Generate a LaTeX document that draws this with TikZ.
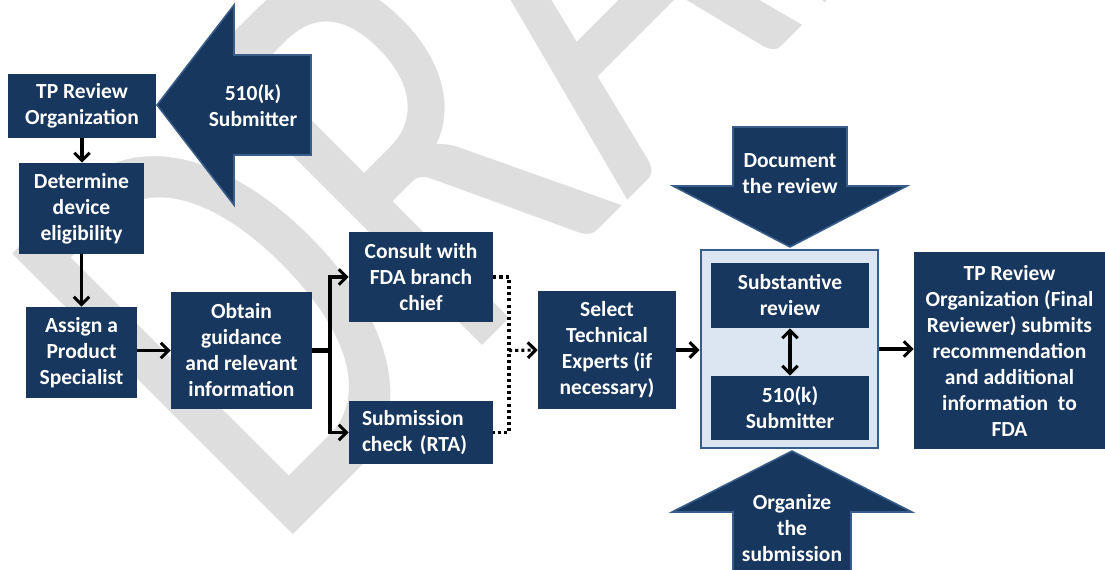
\documentclass[tikz,border=0pt]{standalone}
\usepackage{fontspec}
\setmainfont{Carlito}
\usetikzlibrary{arrows.meta}

\definecolor{navy}{HTML}{17375E}
\definecolor{edgeblue}{HTML}{385D8A}
\definecolor{paleblue}{HTML}{DCE6F2}
\definecolor{wmgray}{HTML}{DEDEDE}

\newcommand{\boxfont}{\fontsize{15.3}{18.5}\selectfont\bfseries}

\tikzset{
  stepbox/.style 2 args={fill=navy, text=white, font=\boxfont, align=center,
    inner sep=0pt, minimum width=#1*0.025cm, minimum height=#2*0.025cm},
  arrowtext/.style={text=white, font=\boxfont, align=center, inner sep=0pt},
  blockarrow/.style={fill=navy, draw=edgeblue, line width=1.1pt, line join=miter},
  flow/.style={line width=2.2pt, ->},
  dotline/.style={line width=2.2pt, dash pattern=on 2.2pt off 2.2pt},
  wmark/.style={text=wmgray, font=\fontsize{440}{440}\selectfont, rotate=45,
    xscale=0.7, anchor=base west, inner sep=0pt},
}

\begin{document}
\begin{tikzpicture}[x=0.025cm, y=-0.025cm, >={Straight Barb[length=5.5pt,width=11pt]}]
      \useasboundingbox (0,0) rectangle (1105,570);
      \clip (0,0) rectangle (1105,570);

      % watermark
      \node[wmark] (draft) at (272,556) {DRAFT};

      % left column
      \node[stepbox={148}{64}] (tpro) at (82,106) {TP Review\\Organization};
      \node[stepbox={125}{91}] (elig) at (81.5,208.5) {Determine\\device\\eligibility};
      \node[stepbox={111}{91}] (assign) at (81.5,352.5) {Assign a\\Product\\Specialist};

      % 510(k) submitter arrow
      \draw[blockarrow] (157,105) -- (234,5) -- (234,55) -- (311,55) -- (311,155)
        -- (234,155) -- (234,205) -- cycle;
      \node[arrowtext] (subtxt) at (253,106) {510(k)\\Submitter};

      % guidance and branches
      \node[stepbox={141}{117}] (obtain) at (241.5,350.5) {Obtain\\guidance\\and relevant\\information};
      \node[stepbox={144}{90}] (consult) at (421,277) {Consult with\\FDA branch\\chief};
      \node[stepbox={144}{63}, align=left, text width=118*0.025cm, inner xsep=13*0.025cm]
        (rta) at (421,432.5) {Submission\\check (RTA)};
      \node[stepbox={138}{118}] (select) at (607,350) {Select\\Technical\\Experts (if\\necessary)};

      % review block
      \node[fill=paleblue, draw=edgeblue, line width=2pt, inner sep=0pt,
        minimum width=177*0.025cm, minimum height=198*0.025cm] (revbox) at (789.5,349) {};
      \node[stepbox={158}{65}] (subrev) at (790,295.5) {Substantive\\review};
      \node[stepbox={158}{64}] (subsub) at (790,408) {510(k)\\Submitter};

      % document / organize arrows
      \draw[blockarrow] (733,127) -- (847,127) -- (847,186) -- (907,186) -- (790,247)
        -- (673,186) -- (733,186) -- cycle;
      \node[arrowtext] (doctxt) at (790,174) {Document\\the review};
      \draw[blockarrow] (792,451) -- (912,512) -- (851,512) -- (851,600) -- (733,600)
        -- (733,512) -- (672,512) -- cycle;
      \node[arrowtext] (orgtxt) at (792,528) {Organize\\the\\submission};

      % final reviewer
      \node[stepbox={191}{197}] (final) at (1009.5,350.5) {TP Review\\Organization (Final\\Reviewer) submits\\recommendation\\and additional\\information\ \ to\\FDA};

      % connectors
      \draw[flow] (tpro.south) -- (tpro.south |- elig.north);
      \draw[flow] (elig.south) -- (elig.south |- assign.north);
      \draw[flow] (assign.east |- obtain.west) -- (obtain.west);
      \coordinate (fork) at (330,350.5);
      \draw[line width=3.6pt] (obtain.east) -- (fork);
      \draw[flow] (fork) |- (consult.west);
      \draw[flow] (fork) |- (rta.west);
      \coordinate (dotjoin) at (509,350.5);
      \draw[dotline] (consult.east) -| (dotjoin) |- (rta.east);
      \draw[dotline, ->] (dotjoin) -- (select.west);
      \draw[flow] (select.east) -- (select.east -| revbox.west);
      \draw[flow, <->] (subrev.south) -- (subsub.north);
      \draw[flow] (revbox.east) -- (revbox.east -| final.west);
    \end{tikzpicture}
\end{document}
